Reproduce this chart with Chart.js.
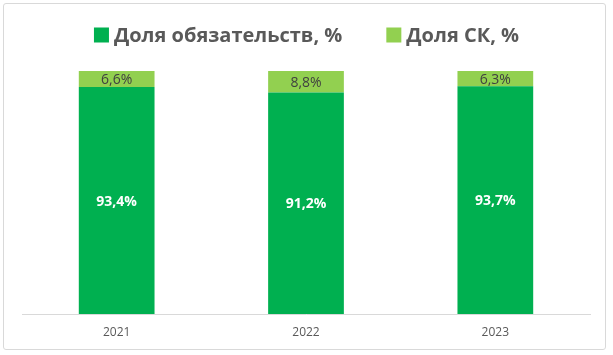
<!DOCTYPE html>
<html>
<head>
<meta charset="utf-8">
<script src="https://cdn.jsdelivr.net/npm/chart.js@4/dist/chart.umd.min.js"></script>
<style>
html,body{margin:0;padding:0;background:#fff;}
#wrap{position:relative;width:613px;height:355px;}
#frame{position:absolute;left:3px;top:3px;width:603px;height:347px;border:1px solid #d9d9d9;border-radius:3px;box-sizing:border-box;pointer-events:none;}
canvas{position:absolute;left:0;top:0;}
</style>
</head>
<body>
<div id="wrap"><canvas id="c" width="613" height="355"></canvas><div id="frame"></div></div>
<script>
const categories = ['2021', '2022', '2023'];
const liabilitiesShare = [93.4, 91.2, 93.7];
const equityShare = [6.6, 8.8, 6.3];
const seriesNames = ['Доля обязательств, %', 'Доля СК, %'];

const FONT = "'Open Sans', 'Noto Sans', sans-serif";

const fmt = v => v.toFixed(1).replace('.', ',') + '%';

const labelPlugin = {
  id: 'valueLabels',
  afterDatasetsDraw(chart) {
    const ctx = chart.ctx;
    ctx.save();
    ctx.textAlign = 'center';
    ctx.textBaseline = 'middle';
    chart.data.datasets.forEach((ds, di) => {
      const meta = chart.getDatasetMeta(di);
      meta.data.forEach((bar, i) => {
        const yMid = (bar.y + bar.base) / 2;
        if (di === 0) {
          ctx.fillStyle = '#ffffff';
          ctx.font = "bold 14px " + FONT;
        } else {
          ctx.fillStyle = '#404040';
          ctx.font = "14px " + FONT;
        }
        ctx.fillText(fmt(ds.data[i]), bar.x, yMid + 1);
      });
    });
    ctx.restore();
  }
};

const legendPlugin = {
  id: 'customLegend',
  afterDraw(chart) {
    const ctx = chart.ctx;
    ctx.save();
    ctx.font = "bold 20px " + FONT;
    ctx.textBaseline = 'middle';
    ctx.textAlign = 'left';
    const box = 15, gap = 5, spacing = 44;
    const items = chart.data.datasets.map(ds => ({ text: ds.label, color: ds.backgroundColor, w: ctx.measureText(ds.label).width }));
    let total = items.reduce((s, it) => s + box + gap + it.w, 0) + spacing * (items.length - 1);
    let x = (chart.width / 2) - total / 2;
    const yc = 35;
    items.forEach(it => {
      ctx.fillStyle = it.color;
      ctx.fillRect(x, yc - box / 2, box, box);
      ctx.fillStyle = '#595959';
      ctx.fillText(it.text, x + box + gap, yc + 1);
      x += box + gap + it.w + spacing;
    });
    ctx.restore();
  }
};

new Chart(document.getElementById('c'), {
  type: 'bar',
  data: {
    labels: categories,
    datasets: [
      { label: seriesNames[0], data: liabilitiesShare, backgroundColor: '#00B050', borderWidth: 0 },
      { label: seriesNames[1], data: equityShare, backgroundColor: '#92D050', borderWidth: 0 }
    ]
  },
  options: {
    responsive: false,
    animation: false,
    devicePixelRatio: 1,
    datasets: { bar: { barPercentage: 0.4, categoryPercentage: 1 } },
    layout: { padding: { left: 22, right: 23, top: 71, bottom: 17 } },
    plugins: {
      tooltip: { enabled: false },
      legend: { display: false }
    },
    scales: {
      x: {
        stacked: true,
        grid: { display: false, drawTicks: false },
        border: { display: true, color: '#d9d9d9', width: 1 },
        ticks: { color: '#595959', font: { family: FONT, size: 12 }, padding: 11 },
        afterFit: s => { s.height = 24; }
      },
      y: {
        stacked: true,
        display: false,
        min: 0,
        max: 100
      }
    }
  },
  plugins: [labelPlugin, legendPlugin]
});
</script>
</body>
</html>
